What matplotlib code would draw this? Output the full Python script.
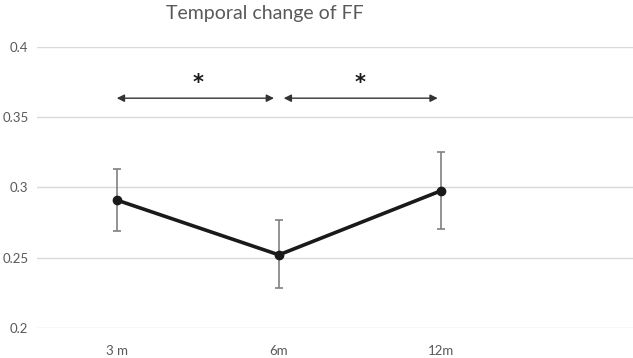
import matplotlib
matplotlib.use('Agg')
from matplotlib import pyplot as plt

labels = ['3 m', '6m', '12m']
ff = [0.291, 0.252, 0.2976]
err_low = [0.0223, 0.0236, 0.027]
err_high = [0.0223, 0.025, 0.0275]

plt.rcParams['font.family'] = ['Lato', 'DejaVu Sans']

fig = plt.figure(figsize=(6.33, 3.58), dpi=100)
ax = fig.add_axes([0.058, 0.084, 0.942, 0.785])

x = list(range(len(labels)))
ax.errorbar(x, ff, yerr=[err_low, err_high], fmt='none', ecolor='#808080',
            elinewidth=1.2, capsize=3, capthick=1.2, zorder=2)
ax.plot(x, ff, color='#1a1a1a', linewidth=2.6, marker='o', markersize=6, zorder=3)

# significance arrows
arrow_y = 0.3635
for a, b in [(0, 0.97), (1.03, 1.98)]:
    ax.annotate('', xy=(b, arrow_y), xytext=(a, arrow_y),
                arrowprops=dict(arrowstyle='<|-|>', color='#333333', lw=1.0,
                                mutation_scale=11, shrinkA=0, shrinkB=0))
for sx in [0.5, 1.5]:
    ax.text(sx, 0.3745, '*', ha='center', va='center', fontsize=15,
            fontweight='bold', color='#1a1a1a', family='DejaVu Sans')

ax.set_ylim(0.2, 0.4)
ax.set_yticks([0.2, 0.25, 0.3, 0.35, 0.4])
ax.set_yticklabels(['0.2', '0.25', '0.3', '0.35', '0.4'])
ax.set_xlim(-0.494, 3.185)
ax.set_xticks(x)
ax.set_xticklabels(labels)
ax.grid(axis='y', color='#d9d9d9', linewidth=1.0)
ax.set_axisbelow(True)
for s in ax.spines.values():
    s.set_visible(False)
ax.tick_params(length=0, colors='#595959', labelsize=9.5)
ax.tick_params(axis='x', pad=12)
ax.tick_params(axis='y', pad=6)

fig.text(265 / 633, 0.962, 'Temporal change of FF', ha='center', va='center',
         fontsize=14, color='#595959')

fig.savefig('out.png', dpi=100)
